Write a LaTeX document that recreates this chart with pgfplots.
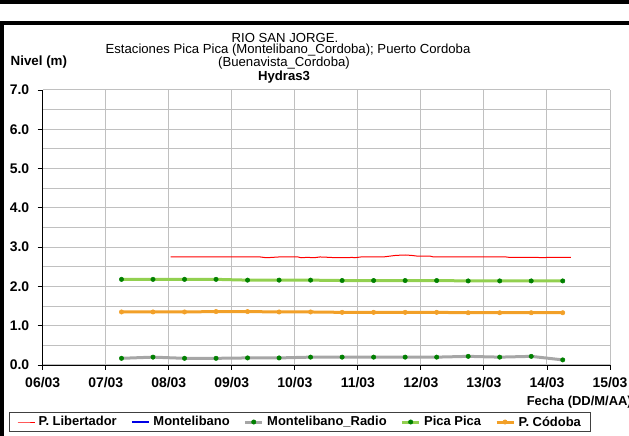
\documentclass[border=0pt]{standalone}
\usepackage{pgfplots}
\pgfplotsset{compat=1.18}
\usetikzlibrary{calc}
\usepackage{fontspec}
\setmainfont{Liberation Sans}

\definecolor{gridgray}{RGB}{192,192,192}
\definecolor{radiogray}{RGB}{166,166,166}
\definecolor{picagreen}{RGB}{146,208,80}
\definecolor{markgreen}{RGB}{0,128,0}
\definecolor{cordorange}{RGB}{242,160,40}

\begin{document}
\begin{tikzpicture}
\begin{axis}[
    name=ax,
    scale only axis,
    width=567.3bp, height=275bp,
    xmin=0, xmax=9, ymin=0, ymax=7,
    xtick={0,...,9},
    xticklabels={06/03,07/03,08/03,09/03,10/03,11/03,12/03,13/03,14/03,15/03},
    ytick={0,...,7},
    minor ytick={0.5,1.5,...,6.5},
    grid=both,
    major grid style={gridgray, line width=1bp},
    minor grid style={gridgray, line width=1bp},
    axis x line=bottom, axis y line=left,
    axis line style={-, black, line width=0.9bp},
    tick align=outside,
    major tick length=5bp,
    minor tick length=0pt,
    tick style={black, line width=0.9bp},
    /pgf/number format/assume math mode=true,
    yticklabel style={xshift=-5bp, /pgf/number format/.cd, fixed, fixed zerofill, precision=1},
    xticklabel style={yshift=-4bp},
    tick label style={font=\bfseries\fontsize{14}{16}\selectfont},
    legend columns=5,
    legend cell align=left,
    legend style={at={(0.4535,-0.2073)}, anchor=center,
        draw=black!75, line width=0.8bp, inner ysep=2bp, inner xsep=7.5bp,
        font=\bfseries\fontsize{13}{15}\selectfont,
        /tikz/every odd column/.append style={column sep=1.5bp},
        /tikz/every even column/.append style={column sep=12bp}},
]
% P. Libertador
\addplot[red, line width=1bp] coordinates {
    (2.03,2.75) (2.5,2.75) (3.0,2.75) (3.45,2.75) (3.5,2.74) (3.55,2.73)
    (3.65,2.74) (3.75,2.75) (4.05,2.75) (4.1,2.73) (4.2,2.74) (4.3,2.73)
    (4.4,2.75) (4.55,2.74) (4.65,2.73) (4.85,2.73) (4.9,2.74) (4.95,2.73)
    (5.05,2.75) (5.4,2.75) (5.5,2.77) (5.6,2.79) (5.75,2.80) (5.85,2.79)
    (5.95,2.77) (6.15,2.77) (6.2,2.75) (7.35,2.75) (7.4,2.74) (7.85,2.74)
    (7.9,2.73) (7.95,2.73) (8.0,2.74) (8.38,2.74)
};
\addlegendentry{P. Libertador}
% Montelibano (no data in this period)
\addlegendimage{blue!90!black, line width=2.2bp}
\addlegendentry{Montelibano}
% Montelibano_Radio
\addplot[radiogray, line width=3bp, mark=*, mark size=2.2bp,
    mark options={fill=markgreen, draw=markgreen, line width=0.5bp}] coordinates {
    (1.25,0.17) (1.75,0.20) (2.25,0.17) (2.75,0.17) (3.25,0.18)
    (3.75,0.18) (4.25,0.20) (4.75,0.20) (5.25,0.20) (5.75,0.20)
    (6.25,0.20) (6.75,0.22) (7.25,0.20) (7.75,0.22) (8.25,0.13)
};
\addlegendentry{Montelibano\_Radio}
% Pica Pica
\addplot[picagreen, line width=3bp, mark=*, mark size=2.2bp,
    mark options={fill=markgreen, draw=markgreen, line width=0.5bp}] coordinates {
    (1.25,2.18) (1.75,2.18) (2.25,2.18) (2.75,2.18) (3.25,2.16)
    (3.75,2.16) (4.25,2.16) (4.75,2.15) (5.25,2.15) (5.75,2.15)
    (6.25,2.15) (6.75,2.14) (7.25,2.14) (7.75,2.14) (8.25,2.14)
};
\addlegendentry{Pica Pica}
% P. Cordoba
\addplot[cordorange, line width=3bp, mark=*, mark size=2.2bp,
    mark options={fill=cordorange, draw=cordorange, line width=0.5bp}] coordinates {
    (1.25,1.35) (1.75,1.35) (2.25,1.35) (2.75,1.36) (3.25,1.36)
    (3.75,1.35) (4.25,1.35) (4.75,1.34) (5.25,1.34) (5.75,1.34)
    (6.25,1.34) (6.75,1.33) (7.25,1.33) (7.75,1.33) (8.25,1.33)
};
\addlegendentry{P. Códoba}
\end{axis}

% page frame relative to the axis corner
\pgfresetboundingbox
\coordinate (O) at ($(ax.south west)+(-42.7bp,-71bp)$);
\begin{scope}[shift={(O)}, x=1bp, y=1bp]
\useasboundingbox (0,0) rectangle (629,436);
\fill (0,432) rectangle (629,436);
\fill (0,411) rectangle (629,414.5);
\fill (0,0) rectangle (4,414.5);
\node[font=\fontsize{13.2}{15}\selectfont] at (285,398) {RIO SAN JORGE.};
\node[font=\fontsize{13.2}{15}\selectfont] at (288,385.5) {Estaciones Pica Pica (Montelibano\_Cordoba); Puerto Cordoba};
\node[font=\fontsize{13.2}{15}\selectfont] at (284,373) {(Buenavista\_Cordoba)};
\node[font=\bfseries\fontsize{13.2}{15}\selectfont] at (284,358.5) {Hydras3};
\node[anchor=west, font=\bfseries\fontsize{13.4}{15}\selectfont, inner sep=0pt] at (10.5,374) {Nivel (m)};
\node[anchor=east, font=\bfseries\fontsize{13}{15}\selectfont, inner sep=0pt] at (632,34) {Fecha (DD/M/AA)};
\end{scope}
\end{tikzpicture}
\end{document}
